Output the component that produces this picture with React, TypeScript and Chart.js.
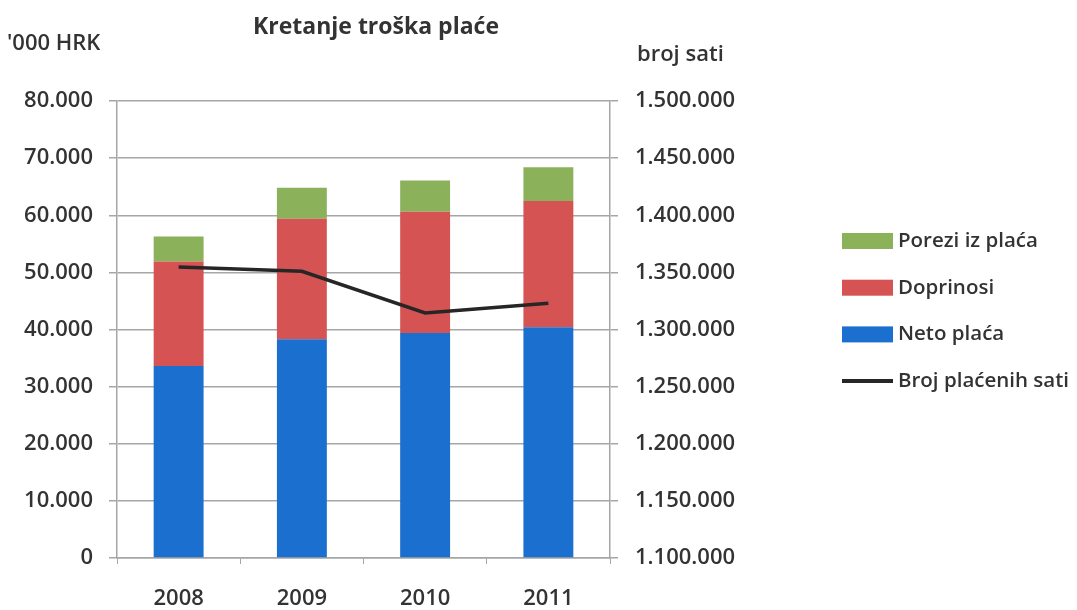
import React, { useEffect, useRef } from "react";
import { Chart, registerables } from "chart.js";

Chart.register(...registerables);

const years = ["2008", "2009", "2010", "2011"];
const netoPlaca = [33600, 38300, 39400, 40400];
const doprinosi = [18300, 21100, 21200, 22100];
const poreziIzPlaca = [4400, 5400, 5500, 5900];
const brojSati = [1354800, 1351000, 1314500, 1323000];

const chartTitle = "Kretanje troška plaće";
const leftUnit = "'000 HRK";
const rightUnit = "broj sati";
const legendOrder = [3, 2, 1, 0];

const FONT = "'Open Sans', 'DejaVu Sans', sans-serif";
const TEXT = "#333333";
const GRID = "#a6a6a6";

const fmt = (v: number) => String(Math.round(v)).replace(/\B(?=(\d{3})+(?!\d))/g, ".");

const decorPlugin = {
  id: "decor",
  afterDraw(chart: any) {
    const ctx = chart.ctx;
    const ca = chart.chartArea;
    ctx.save();
    ctx.fillStyle = TEXT;
    ctx.textBaseline = "middle";
    // title
    ctx.font = `bold 23px ${FONT}`;
    ctx.textAlign = "center";
    ctx.fillText(chartTitle, ca.left + 259, 27);
    // unit labels
    ctx.font = `600 22px ${FONT}`;
    ctx.textAlign = "left";
    ctx.fillText(leftUnit, 7, 44);
    ctx.fillText(rightUnit, ca.right + 27, 55);
    // legend
    ctx.font = `600 20.5px ${FONT}`;
    const x0 = ca.right + 232;
    legendOrder.forEach((di, k) => {
      const ds = chart.data.datasets[di];
      const y = 241 + k * 46.7;
      if (ds.type === "line") {
        ctx.strokeStyle = ds.borderColor;
        ctx.lineWidth = 4;
        ctx.beginPath();
        ctx.moveTo(x0, y);
        ctx.lineTo(x0 + 51, y);
        ctx.stroke();
      } else {
        ctx.fillStyle = ds.backgroundColor;
        ctx.fillRect(x0, y - 8, 51, 16);
      }
      ctx.fillStyle = TEXT;
      ctx.fillText(ds.label, x0 + 56, y);
    });
    ctx.restore();
  },
};

export default function App() {
  const ref = useRef<HTMLCanvasElement>(null);
  useEffect(() => {
    document.body.style.margin = "0";
    const tickFont = { family: FONT, size: 22, weight: 600 as any };
    const chart = new Chart(ref.current as HTMLCanvasElement, {
      type: "bar",
      data: {
        labels: years,
        datasets: [
          {
            type: "line",
            label: "Broj plaćenih sati",
            data: brojSati,
            yAxisID: "y1",
            borderColor: "#262626",
            backgroundColor: "#262626",
            borderWidth: 3.5,
            pointRadius: 0,
            tension: 0,
            order: 0,
          } as any,
          {
            label: "Neto plaća",
            data: netoPlaca,
            backgroundColor: "#1b6fcf",
            yAxisID: "y",
            stack: "s",
            order: 1,
          },
          {
            label: "Doprinosi",
            data: doprinosi,
            backgroundColor: "#d65353",
            yAxisID: "y",
            stack: "s",
            order: 1,
          },
          {
            label: "Porezi iz plaća",
            data: poreziIzPlaca,
            backgroundColor: "#8bb25a",
            yAxisID: "y",
            stack: "s",
            order: 1,
          },
        ],
      },
      options: {
        animation: false,
        responsive: true,
        maintainAspectRatio: false,
        layout: { padding: { top: 101, left: 0, right: 0, bottom: 0 } },
        datasets: { bar: { barPercentage: 0.405, categoryPercentage: 1 } },
        plugins: {
          legend: { display: false },
          title: { display: false },
          tooltip: { enabled: false },
        },
        scales: {
          x: {
            stacked: true,
            grid: { offset: true, drawOnChartArea: false, drawTicks: true, tickLength: 6, color: GRID },
            border: { color: GRID, width: 1.5 },
            ticks: { color: TEXT, font: tickFont, padding: 22 },
            afterFit: (s: any) => { s.height = 52; },
          },
          y: {
            stacked: true,
            min: 0,
            max: 80000,
            position: "left",
            grid: { color: GRID, lineWidth: 1.5, tickLength: 8 },
            border: { color: GRID, width: 1.5 },
            ticks: { stepSize: 10000, color: TEXT, font: tickFont, padding: 16, callback: (v: any) => fmt(v) },
            afterFit: (s: any) => { s.width = 117; },
          },
          y1: {
            stacked: false,
            min: 1100000,
            max: 1500000,
            position: "right",
            grid: { drawOnChartArea: false, color: GRID, lineWidth: 1.5, tickLength: 8 },
            border: { color: GRID, width: 1.5 },
            ticks: { stepSize: 50000, color: TEXT, font: tickFont, padding: 17, callback: (v: any) => fmt(v) },
            afterFit: (s: any) => { s.width = 467; },
          },
        },
      },
      plugins: [decorPlugin],
    });
    return () => chart.destroy();
  }, []);
  return (
    <div style={{ width: 1077, height: 610, position: "relative" }}>
      <canvas ref={ref} />
    </div>
  );
}
